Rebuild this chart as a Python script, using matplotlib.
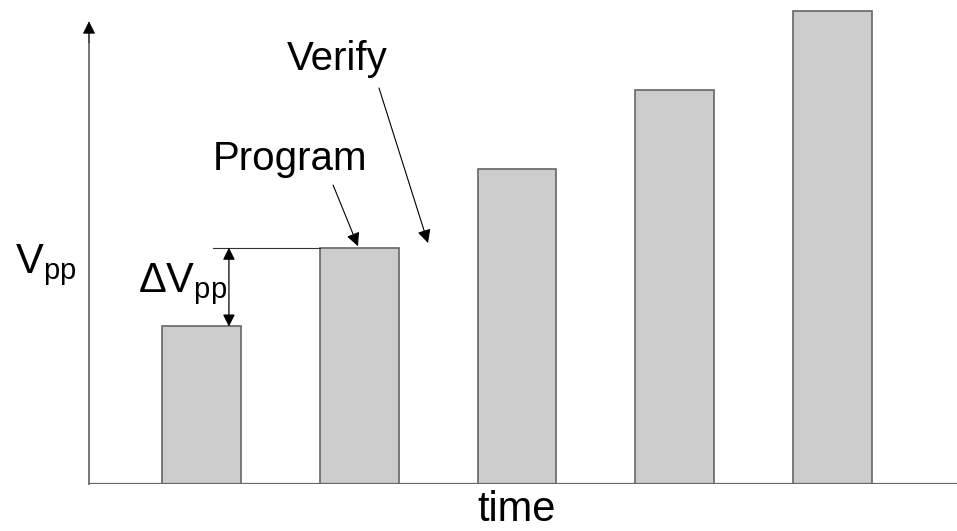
import matplotlib
matplotlib.use('Agg')
import matplotlib.pyplot as plt

plt.rcParams['font.family'] = ['Liberation Sans', 'DejaVu Sans']
plt.rcParams['mathtext.fontset'] = 'custom'
plt.rcParams['mathtext.rm'] = 'Liberation Sans'
plt.rcParams['mathtext.it'] = 'Liberation Sans'

# bar heights in units of one voltage step
steps = [0, 1, 2, 3, 4]
vpp = [2, 3, 4, 5, 6]

fig = plt.figure(figsize=(9.57, 5.31), dpi=100)
ax = fig.add_axes([89 / 957, 47 / 531, 868 / 957, 484 / 531])
ax.set_xlim(-0.713, 4.789)
ax.set_ylim(0, 6.146)
ax.axis('off')

ax.bar(steps, vpp, width=0.5, color='#cccccc', edgecolor='#666666', linewidth=1.2, zorder=2)

# axes lines
ax.axhline(0, color='#666666', lw=1.6, zorder=3)
ax.plot([-0.713, -0.713], [0, 5.8], color='#777777', lw=1.4, clip_on=False)
ax.annotate('', xy=(-0.713, 5.875), xytext=(-0.713, 5.6),
            arrowprops=dict(arrowstyle='-|>', color='black', lw=0.5, mutation_scale=20,
                            shrinkA=0, shrinkB=0),
            annotation_clip=False)

# delta Vpp marker
ax.plot([0.073, 0.75], [vpp[1], vpp[1]], color='#333333', lw=0.8, zorder=3)
ax.annotate('', xy=(0.174, vpp[1]), xytext=(0.174, vpp[0]),
            arrowprops=dict(arrowstyle='<|-|>', color='black', lw=0.9, mutation_scale=18,
                            shrinkA=0, shrinkB=0))

ax.text(-1.182, 2.679, r'$\mathregular{V_{pp}}$', fontsize=30, ha='left', va='baseline')
ax.text(-0.4025, 2.438, r'Δ$\mathregular{V_{pp}}$', fontsize=30, ha='left', va='baseline')
ax.text(2.0, -0.47, 'time', fontsize=30, ha='center', va='baseline')

ax.text(0.073, 3.987, 'Program', fontsize=29, ha='left', va='baseline')
ax.annotate('', xy=(0.992, 3.02), xytext=(0.834, 3.797),
            arrowprops=dict(arrowstyle='-|>', color='black', lw=0.8, mutation_scale=20,
                            shrinkA=0, shrinkB=0))

ax.text(0.542, 5.257, 'Verify', fontsize=29, ha='left', va='baseline')
ax.annotate('', xy=(1.436, 3.06), xytext=(1.125, 5.029),
            arrowprops=dict(arrowstyle='-|>', color='black', lw=0.8, mutation_scale=20,
                            shrinkA=0, shrinkB=0))

fig.savefig('out.png', dpi=100)
